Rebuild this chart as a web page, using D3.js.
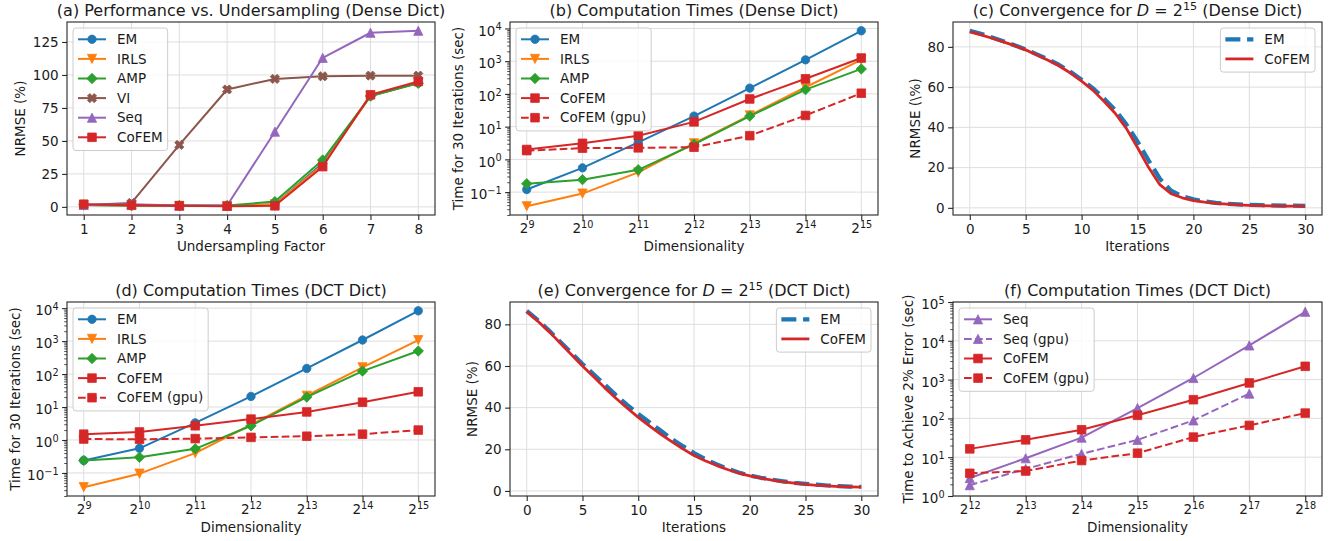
<!DOCTYPE html>
<html>
<head>
<meta charset="utf-8">
<script src="https://cdn.jsdelivr.net/npm/d3@7"></script>
<style>
  body { margin: 0; background: #fff; }
  svg { font-family: "DejaVu Sans", sans-serif; }
</style>
</head>
<body>
<svg id="chart" width="1335" height="541"></svg>
<script>
// ---- data ----
const undersamplingFactor = [1, 2, 3, 4, 5, 6, 7, 8];
const denseNrmseEM    = [1.5, 1.0, 0.8, 0.7, 2.0, 33, 84, 94];
const denseNrmseIRLS  = [1.5, 1.0, 0.8, 0.7, 2.0, 32, 84, 94];
const denseNrmseAMP   = [1.5, 1.0, 1.0, 1.0, 4.0, 35.5, 84, 93.7];
const denseNrmseVI    = [1.5, 3.0, 47, 89, 97, 99, 99.5, 99.5];
const denseNrmseSeq   = [1.5, 2.0, 1.0, 1.0, 57, 113, 132, 133.5];
const denseNrmseCoFEM = [2.0, 1.2, 0.8, 0.5, 0.8, 30.5, 85, 95];

const dims = [512, 1024, 2048, 4096, 8192, 16384, 32768];
const denseTimeEM       = [0.12, 0.55, 3.3, 21, 150, 1100, 8500];
const denseTimeIRLS     = [0.037, 0.09, 0.4, 3.1, 22, 160, 1100];
const denseTimeAMP      = [0.18, 0.24, 0.48, 2.9, 21, 135, 580];
const denseTimeCoFEM    = [2.0, 3.1, 5.3, 14, 70, 290, 1250];
const denseTimeCoFEMgpu = [1.85, 2.2, 2.25, 2.35, 5.3, 22, 105];

const dctTimeEM       = [0.24, 0.56, 3.3, 21, 148, 1080, 8300];
const dctTimeIRLS     = [0.037, 0.095, 0.4, 2.9, 22, 160, 1070];
const dctTimeAMP      = [0.24, 0.3, 0.54, 2.7, 20, 123, 500];
const dctTimeCoFEM    = [1.5, 1.75, 2.7, 4.3, 7.1, 14, 29];
const dctTimeCoFEMgpu = [1.07, 1.05, 1.1, 1.2, 1.3, 1.5, 2.0];

const iterations = d3.range(0, 31);
const denseConvEM = [88, 86.5, 84.7, 82.8, 80.8, 78.7, 76.3, 73.8, 71, 67.6, 63.7, 59.5, 54.3, 48.7, 41.5,
  33, 23.5, 14.5, 8.5, 5.8, 4.2, 3.2, 2.5, 2, 1.7, 1.5, 1.3, 1.2, 1.1, 1.05, 1];
const denseConvCoFEM = [87.5, 86, 84.3, 82.5, 80.6, 78.5, 76, 73.4, 70.5, 67, 63, 58.5, 53, 47, 39.5,
  30, 20, 11.5, 7, 5, 3.6, 2.8, 2.2, 1.8, 1.5, 1.2, 1.1, 1, 0.9, 0.85, 0.8];
const dctConvEM = [86.5, 82, 77, 71.7, 66.3, 61, 56, 51, 46, 41.3, 37, 33, 29, 25, 21.5,
  18.2, 15.3, 12.8, 10.7, 8.9, 7.4, 6.3, 5.4, 4.6, 3.9, 3.4, 3, 2.6, 2.3, 2.1, 2];
const dctConvCoFEM = [86, 81.5, 76.5, 71, 65.5, 60, 54.8, 49.5, 44.5, 39.8, 35.3, 31.2, 27.3, 23.7, 20.2,
  17, 14.5, 12.3, 10.3, 8.6, 7.2, 6.1, 5.2, 4.4, 3.7, 3.1, 2.7, 2.4, 2.1, 1.9, 1.8];

const dimsLarge = [4096, 8192, 16384, 32768, 65536, 131072, 262144];
const seqTime      = [2.9, 9.4, 32, 185, 1100, 7600, 56000];
const seqGpuTime   = [1.9, 5.0, 12.2, 28, 89, 436];
const cofemTime    = [16.4, 28, 51, 120, 303, 820, 2200];
const cofemGpuTime = [3.85, 4.4, 8.2, 12.7, 33, 66, 137];

const nrmseTicks = [0, 25, 50, 75, 100, 125];
const convTicks = [0, 20, 40, 60, 80];
const iterTicks = [0, 5, 10, 15, 20, 25, 30];
const logTicks = [0.1, 1, 10, 100, 1000, 10000];
const logTicksLarge = [1, 10, 100, 1000, 10000, 100000];

// ---- styling ----
const C = { em: "#1f77b4", irls: "#ff7f0e", amp: "#2ca02c", cofem: "#d62728", vi: "#8c564b", seq: "#9467bd" };
const COLS = [[67, 435], [510, 878], [953, 1322]];
const ROWS = [[22, 215], [302, 496]];
const FS = 13.5;

const svg = d3.select("#chart");

function markerPath(type) {
  let r;
  switch (type) {
    case "circle": r = 4.2; return `M${r},0A${r},${r} 0 1,1 ${-r},0A${r},${r} 0 1,1 ${r},0Z`;
    case "square": r = 4.3; return `M${-r},${-r}H${r}V${r}H${-r}Z`;
    case "tri-up": r = 4.6; return `M0,${-r}L${r},${r}L${-r},${r}Z`;
    case "tri-down": r = 4.6; return `M0,${r}L${r},${-r}L${-r},${-r}Z`;
    case "diamond": r = 5.2; return `M0,${-r}L${r},0L0,${r}L${-r},0Z`;
    case "x": {
      const R = 4.8, a = 1.7;
      const pts = [[a, -R], [a, -a], [R, -a], [R, a], [a, a], [a, R], [-a, R], [-a, a], [-R, a], [-R, -a], [-a, -a], [-a, -R]];
      const c = Math.SQRT1_2;
      return "M" + pts.map(([px, py]) => [(px - py) * c, (px + py) * c].join(",")).join("L") + "Z";
    }
  }
  return null;
}

function padLinear(vals) {
  const lo = d3.min(vals), hi = d3.max(vals), p = (hi - lo) * 0.05;
  return [lo - p, hi + p];
}
function padLog(vals, base) {
  const lg = v => Math.log(v) / Math.log(base);
  const lo = lg(d3.min(vals)), hi = lg(d3.max(vals)), p = (hi - lo) * 0.05;
  return [Math.pow(base, lo - p), Math.pow(base, hi + p)];
}
const supMinus = e => (e < 0 ? "\u2212" + Math.abs(e) : String(e));

function panel(cfg) {
  const [x0, x1] = COLS[cfg.col], [y0, y1] = ROWS[cfg.row];
  const g = svg.append("g");
  const allX = cfg.series.flatMap(s => s.xs);
  const allY = cfg.series.flatMap(s => s.ys);

  const x = cfg.xLog
    ? d3.scaleLog().base(2).domain(padLog(allX, 2)).range([x0, x1])
    : d3.scaleLinear().domain(padLinear(allX)).range([x0, x1]);
  const y = cfg.yLog
    ? d3.scaleLog().domain(cfg.yDomain || padLog(allY, 10)).range([y1, y0])
    : d3.scaleLinear().domain(padLinear(allY)).range([y1, y0]);

  // grid
  g.append("g").selectAll("line").data(cfg.xTicks).join("line")
    .attr("x1", d => x(d)).attr("x2", d => x(d)).attr("y1", y0).attr("y2", y1)
    .attr("stroke", "#dedede").attr("stroke-width", 1);
  g.append("g").selectAll("line").data(cfg.yTicks).join("line")
    .attr("y1", d => y(d)).attr("y2", d => y(d)).attr("x1", x0).attr("x2", x1)
    .attr("stroke", "#dedede").attr("stroke-width", 1);

  // series
  cfg.series.forEach(s => {
    const line = d3.line().x((d, i) => x(s.xs[i])).y(d => y(d));
    g.append("path").datum(s.ys)
      .attr("d", line)
      .attr("fill", "none")
      .attr("stroke", s.color)
      .attr("stroke-width", s.width || 2)
      .attr("stroke-dasharray", s.dash || null)
      .attr("stroke-linejoin", "round");
    if (s.marker) {
      g.append("g").selectAll("path").data(s.ys).join("path")
        .attr("d", markerPath(s.marker))
        .attr("transform", (d, i) => `translate(${x(s.xs[i])},${y(d)})`)
        .attr("fill", s.color).attr("stroke", s.color).attr("stroke-width", 0.8);
    }
  });

  // frame
  g.append("rect").attr("x", x0).attr("y", y0).attr("width", x1 - x0).attr("height", y1 - y0)
    .attr("fill", "none").attr("stroke", "#262626").attr("stroke-width", 1.1);

  // axes
  const xAxis = d3.axisBottom(x).tickValues(cfg.xTicks).tickSize(4.9).tickPadding(4.5).tickSizeOuter(0)
    .tickFormat(cfg.xLog ? () => "" : d3.format("d"));
  const gx = g.append("g").attr("transform", `translate(0,${y1})`).call(xAxis);
  const yAxis = d3.axisLeft(y).tickValues(cfg.yTicks).tickSize(4.9).tickPadding(3.5).tickSizeOuter(0)
    .tickFormat(cfg.yLog ? () => "" : d3.format("d"));
  const gy = g.append("g").attr("transform", `translate(${x0},0)`).call(yAxis);

  if (cfg.yLog) {
    const [lo, hi] = y.domain();
    const minor = [];
    for (let e = Math.floor(Math.log10(lo)); e <= Math.ceil(Math.log10(hi)); e++) {
      for (let k = 2; k <= 9; k++) {
        const v = k * Math.pow(10, e);
        if (v >= lo && v <= hi) minor.push(v);
      }
    }
    g.append("g").attr("transform", `translate(${x0},0)`)
      .call(d3.axisLeft(y).tickValues(minor).tickSize(2.8).tickFormat(() => "").tickSizeOuter(0))
      .call(a => a.select(".domain").remove())
      .selectAll("line").attr("stroke", "#262626").attr("stroke-width", 0.8);
  }

  [gx, gy].forEach(a => {
    a.select(".domain").remove();
    a.selectAll(".tick line").attr("stroke", "#262626").attr("stroke-width", 1.1);
    a.selectAll(".tick text").attr("font-size", FS).attr("fill", "#1a1a1a")
      .attr("font-family", "DejaVu Sans");
  });

  if (cfg.xLog) {
    gx.selectAll(".tick text").attr("dy", "0.64em").each(function (d) {
      const t = d3.select(this);
      t.append("tspan").text("2");
      t.append("tspan").attr("font-size", "0.72em").attr("dy", "-0.55em").text(Math.round(Math.log2(d)));
    });
  }
  if (cfg.yLog) {
    gy.selectAll(".tick text").attr("dy", "0.5em").each(function (d) {
      const t = d3.select(this);
      t.append("tspan").text("10");
      t.append("tspan").attr("font-size", "0.72em").attr("dy", "-0.55em").text(supMinus(Math.round(Math.log10(d))));
    });
  }

  // title
  const title = g.append("text").attr("x", (x0 + x1) / 2).attr("y", y0 - 6.5)
    .attr("text-anchor", "middle").attr("font-size", 16).attr("fill", "#1a1a1a");
  cfg.title.forEach(part => {
    const ts = title.append("tspan").text(part.t);
    if (part.italic) ts.attr("font-style", "italic");
    if (part.sup) ts.attr("font-size", "0.7em").attr("dy", "-0.5em");
    if (part.after) ts.attr("dy", "0.35em");
  });

  // axis labels
  g.append("text").attr("x", (x0 + x1) / 2).attr("y", y1 + 36)
    .attr("text-anchor", "middle").attr("font-size", FS).attr("fill", "#1a1a1a").text(cfg.xLabel);
  g.append("text")
    .attr("transform", `translate(${x0 - cfg.yLabelOff},${(y0 + y1) / 2}) rotate(-90)`)
    .attr("dy", "0.35em").attr("text-anchor", "middle").attr("font-size", FS).attr("fill", "#1a1a1a")
    .text(cfg.yLabel);

  // legend
  const lg = g.append("g");
  const box = lg.append("rect");
  const rows = cfg.series.map((s, i) => {
    const row = lg.append("g").attr("transform", `translate(0,${11.3 + i * 19.6})`);
    row.append("line").attr("x1", 5).attr("x2", 33)
      .attr("stroke", s.color).attr("stroke-width", s.width || 2).attr("stroke-dasharray", s.dash || null);
    if (s.marker) row.append("path").attr("d", markerPath(s.marker)).attr("transform", "translate(19,0)")
      .attr("fill", s.color).attr("stroke", s.color).attr("stroke-width", 0.8);
    return row.append("text").attr("x", 44).attr("dy", "0.35em").attr("font-size", FS)
      .attr("fill", "#1a1a1a").text(s.label);
  });
  const tw = d3.max(rows, t => t.node().getComputedTextLength());
  const bw = 44 + tw + 5, bh = 11.3 + (cfg.series.length - 1) * 19.6 + 13.2;
  box.attr("width", bw).attr("height", bh).attr("rx", 3)
    .attr("fill", "#fff").attr("fill-opacity", 0.8).attr("stroke", "#cccccc").attr("stroke-width", 1);
  const lx = cfg.legendRight ? x1 - 7 - bw : x0 + 6;
  lg.attr("transform", `translate(${lx},${y0 + 6})`);
}

// (a)
panel({
  col: 0, row: 0,
  title: [{ t: "(a) Performance vs. Undersampling (Dense Dict)" }],
  xLabel: "Undersampling Factor", yLabel: "NRMSE (%)", yLabelOff: 47,
  xTicks: undersamplingFactor, yTicks: nrmseTicks,
  series: [
    { label: "EM", xs: undersamplingFactor, ys: denseNrmseEM, color: C.em, marker: "circle" },
    { label: "IRLS", xs: undersamplingFactor, ys: denseNrmseIRLS, color: C.irls, marker: "tri-down" },
    { label: "AMP", xs: undersamplingFactor, ys: denseNrmseAMP, color: C.amp, marker: "diamond" },
    { label: "VI", xs: undersamplingFactor, ys: denseNrmseVI, color: C.vi, marker: "x" },
    { label: "Seq", xs: undersamplingFactor, ys: denseNrmseSeq, color: C.seq, marker: "tri-up" },
    { label: "CoFEM", xs: undersamplingFactor, ys: denseNrmseCoFEM, color: C.cofem, marker: "square" }
  ]
});

// (b)
panel({
  col: 1, row: 0, xLog: true, yLog: true,
  title: [{ t: "(b) Computation Times (Dense Dict)" }],
  xLabel: "Dimensionality", yLabel: "Time for 30 Iterations (sec)", yLabelOff: 52,
  xTicks: dims, yTicks: logTicks,
  series: [
    { label: "EM", xs: dims, ys: denseTimeEM, color: C.em, marker: "circle" },
    { label: "IRLS", xs: dims, ys: denseTimeIRLS, color: C.irls, marker: "tri-down" },
    { label: "AMP", xs: dims, ys: denseTimeAMP, color: C.amp, marker: "diamond" },
    { label: "CoFEM", xs: dims, ys: denseTimeCoFEM, color: C.cofem, marker: "square" },
    { label: "CoFEM (gpu)", xs: dims, ys: denseTimeCoFEMgpu, color: C.cofem, marker: "square", dash: "7.7,3.3" }
  ]
});

// (c)
panel({
  col: 2, row: 0, legendRight: true,
  title: [{ t: "(c) Convergence for " }, { t: "D", italic: true }, { t: " = 2" }, { t: "15", sup: true },
    { t: " (Dense Dict)", after: true }],
  xLabel: "Iterations", yLabel: "NRMSE (\\%)", yLabelOff: 38,
  xTicks: iterTicks, yTicks: convTicks,
  series: [
    { label: "EM", xs: iterations, ys: denseConvEM, color: C.em, width: 4.2, dash: "15,6.7" },
    { label: "CoFEM", xs: iterations, ys: denseConvCoFEM, color: C.cofem, width: 2.8 }
  ]
});

// (d)
panel({
  col: 0, row: 1, xLog: true, yLog: true,
  title: [{ t: "(d) Computation Times (DCT Dict)" }],
  xLabel: "Dimensionality", yLabel: "Time for 30 Iterations (sec)", yLabelOff: 52,
  xTicks: dims, yTicks: logTicks,
  series: [
    { label: "EM", xs: dims, ys: dctTimeEM, color: C.em, marker: "circle" },
    { label: "IRLS", xs: dims, ys: dctTimeIRLS, color: C.irls, marker: "tri-down" },
    { label: "AMP", xs: dims, ys: dctTimeAMP, color: C.amp, marker: "diamond" },
    { label: "CoFEM", xs: dims, ys: dctTimeCoFEM, color: C.cofem, marker: "square" },
    { label: "CoFEM (gpu)", xs: dims, ys: dctTimeCoFEMgpu, color: C.cofem, marker: "square", dash: "7.7,3.3" }
  ]
});

// (e)
panel({
  col: 1, row: 1, legendRight: true,
  title: [{ t: "(e) Convergence for " }, { t: "D", italic: true }, { t: " = 2" }, { t: "15", sup: true },
    { t: " (DCT Dict)", after: true }],
  xLabel: "Iterations", yLabel: "NRMSE (%)", yLabelOff: 38,
  xTicks: iterTicks, yTicks: convTicks,
  series: [
    { label: "EM", xs: iterations, ys: dctConvEM, color: C.em, width: 4.2, dash: "15,6.7" },
    { label: "CoFEM", xs: iterations, ys: dctConvCoFEM, color: C.cofem, width: 2.8 }
  ]
});

// (f)
panel({
  col: 2, row: 1, xLog: true, yLog: true, yDomain: [1, 1e5],
  title: [{ t: "(f) Computation Times (DCT Dict)" }],
  xLabel: "Dimensionality", yLabel: "Time to Achieve 2% Error (sec)", yLabelOff: 45,
  xTicks: dimsLarge, yTicks: logTicksLarge,
  series: [
    { label: "Seq", xs: dimsLarge, ys: seqTime, color: C.seq, marker: "tri-up" },
    { label: "Seq (gpu)", xs: dimsLarge.slice(0, seqGpuTime.length), ys: seqGpuTime, color: C.seq, marker: "tri-up", dash: "7.7,3.3" },
    { label: "CoFEM", xs: dimsLarge, ys: cofemTime, color: C.cofem, marker: "square" },
    { label: "CoFEM (gpu)", xs: dimsLarge, ys: cofemGpuTime, color: C.cofem, marker: "square", dash: "7.7,3.3" }
  ]
});
</script>
</body>
</html>
